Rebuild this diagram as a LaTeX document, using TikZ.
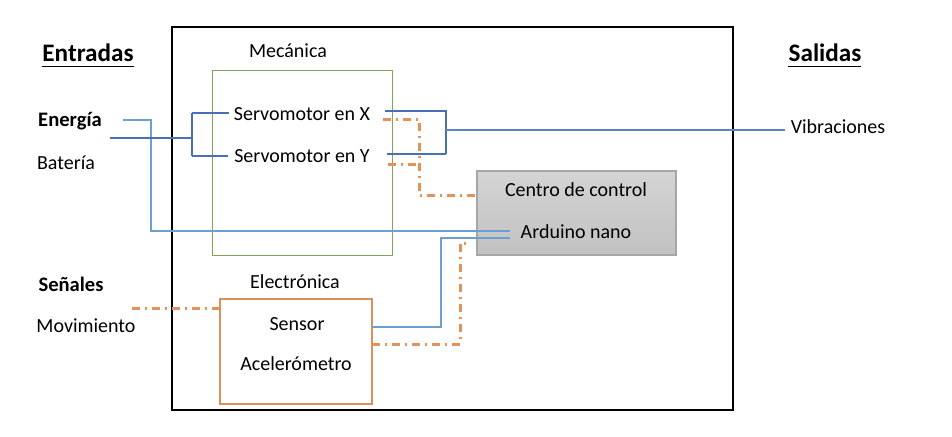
\documentclass[tikz,border=0pt]{standalone}
\usepackage{fontspec}
\setmainfont{Carlito}
\begin{document}
\begin{tikzpicture}[x=0.5pt,y=-0.5pt,
  lbl/.style={inner sep=0pt,anchor=center,font=\fontsize{10}{12}\selectfont},
  bld/.style={lbl,font=\fontsize{10.3}{12}\selectfont\bfseries},
  head/.style={inner sep=0pt,anchor=center,font=\fontsize{12.6}{14}\selectfont\bfseries},
  frame/.style={draw=black,line width=0.6pt,minimum width=280.5pt,minimum height=191.5pt,inner sep=0pt},
  mechbox/.style={draw=mygreen,line width=0.5pt,minimum width=90pt,minimum height=92.5pt,inner sep=0pt},
  ctrlbox/.style={draw=greyb,line width=0.6pt,top color=greyt,bottom color=greybot,minimum width=99.5pt,minimum height=42pt,inner sep=0pt},
  sensbox/.style={draw=orbox,line width=0.8pt,minimum width=76pt,minimum height=52.5pt,inner sep=0pt},
  bluethin/.style={draw=bluel,line width=0.8pt},
  bluethick/.style={draw=blued,line width=1.4pt},
  bluemid/.style={draw=bluem,line width=1.1pt},
  orline/.style={draw=orl,line width=1.5pt,dash pattern=on 4pt off 2.5pt on 1pt off 2.5pt}
]
\definecolor{mygreen}{HTML}{7FA65A}
\definecolor{greyb}{HTML}{A6A6A6}
\definecolor{greyt}{HTML}{D4D4D4}
\definecolor{greybot}{HTML}{C2C2C2}
\definecolor{orbox}{HTML}{D8915A}
\definecolor{orl}{HTML}{E3935A}
\definecolor{bluel}{HTML}{6F9FD0}
\definecolor{blued}{HTML}{4A70B4}
\definecolor{bluem}{HTML}{5A85C0}

\useasboundingbox (0,0) rectangle (952,436);

% boxes
\node[frame] (outer) at (452.5,218.5) {};
\node[mechbox] (mech) at (302,162.5) {};
\node[ctrlbox] (ctrl) at (576.5,213) {};
\node[sensbox] (sens) at (296,351.5) {};

% texts
\node[head] (entradas) at (88,53) {Entradas};
\draw[line width=0.8pt] (entradas.south west) ++(0,4) -- ++(92,0);
\node[head] (salidas) at (825,53) {Salidas};
\draw[line width=0.8pt] (salidas.south west) ++(0,4) -- ++(73,0);
\node[lbl] (mectxt) at (288,51) {Mecánica};
\node[bld] (energia) at (70,121) {Energía};
\node[lbl] (bateria) at (66,163) {Batería};
\node[lbl] (sx) at (302,114) {Servomotor en X};
\node[lbl] (sy) at (302,156) {Servomotor en Y};
\node[lbl] (cc) at (576,190) {Centro de control};
\node[lbl] (ard) at (576,232) {Arduino nano};
\node[bld] (senales) at (71,284) {Señales};
\node[lbl] (mov) at (86,326) {Movimiento};
\node[lbl] (elec) at (295,282) {Electrónica};
\node[lbl] (sensor) at (297,324) {Sensor};
\node[lbl] (acel) at (296,364) {Acelerómetro};
\node[lbl] (vib) at (838,127) {Vibraciones};

% coordinates
\coordinate (e0) at (123,120);
\coordinate (e1) at (151,120);
\coordinate (e2) at (151,231);
\coordinate (e3) at (510,231);
\coordinate (b0) at (110,138);
\coordinate (b1) at (192,138);
\coordinate (bt) at (192,113);
\coordinate (bb) at (192,156);
\coordinate (sxl) at (229,113);
\coordinate (syl) at (228,156);
\coordinate (sxr) at (385,111);
\coordinate (r1) at (446,111);
\coordinate (r2) at (446,154);
\coordinate (syr) at (387,154);
\coordinate (rm) at (446,130);
\coordinate (vl) at (785,130);
\coordinate (s0) at (372,327);
\coordinate (s1) at (441,327);
\coordinate (s2) at (441,238);
\coordinate (s3) at (510,238);
\coordinate (o0) at (383,119);
\coordinate (o1) at (419,119);
\coordinate (o2) at (419,195);
\coordinate (o3) at (477,195);
\coordinate (oy0) at (388,164);
\coordinate (oy1) at (419,164);
\coordinate (p0) at (372,344);
\coordinate (p1) at (460,344);
\coordinate (p2) at (460,243);
\coordinate (p3) at (470,243);
\coordinate (q0) at (132,308);
\coordinate (q1) at (220,308);

% blue connectors
\draw[bluethin] (e0) -- (e1) -- (e2) -- (e3);
\draw[bluethick] (b0) -- (b1);
\draw[bluethick] (bt) -- (bb);
\draw[bluethick] (bt) -- (sxl);
\draw[bluethin,draw=blued] (bb) -- (syl);
\draw[bluemid,draw=blued] (sxr) -- (r1) -- (r2);
\draw[bluethick] (r2) -- (syr);
\draw[bluemid] (rm) -- (vl);
\draw[bluethin] (s0) -- (s1) -- (s2) -- (s3);

% orange connectors
\draw[orline] (o0) -- (o1) -- (o2) -- (o3);
\draw[orline] (oy0) -- (oy1);
\draw[orline] (p0) -- (p1) -- (p2) -- (p3);
\draw[orline] (q0) -- (q1);
\end{tikzpicture}
\end{document}
